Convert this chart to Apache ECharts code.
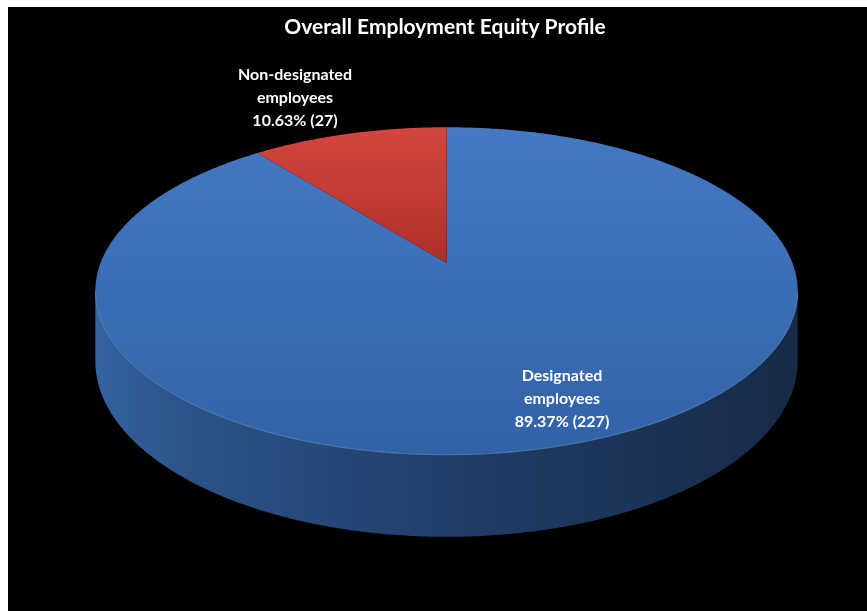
<!DOCTYPE html>
<html>
<head>
<meta charset="utf-8">
<script src="https://cdn.jsdelivr.net/npm/echarts@6/dist/echarts.min.js"></script>
<style>
  html, body { margin: 0; padding: 0; background: #ffffff; width: 867px; height: 611px; overflow: hidden; }
  #chart { position: absolute; left: 8px; top: 7px; width: 859px; height: 604px; }
</style>
</head>
<body>
<div id="chart"></div>
<script>
// ---- data ----
const titleText = 'Overall Employment Equity Profile';
const categories = ['Designated employees', 'Non-designated employees'];
const values = [227, 27];

// ---- styling / layout ----
const topColors = [['#4479C3', '#3262A6'], ['#D4463F', '#AE2F2A']];
const sideStops = [[0, '#3463A1'], [0.12, '#2C5489'], [0.5, '#203E69'], [1, '#172A47']];
const labelPos = [[554, 392], [287, 91]];
const geo = { cx: 438.5, cy: 256, R: 346, H: 159, p: 0.171, T: 68 };

const total = values.reduce((a, b) => a + b, 0);
const startAngles = [];
let acc = 0;
values.forEach(v => { startAngles.push(acc / total * Math.PI * 2); acc += v; });

function proj(theta, drop) {
  const X = Math.sin(theta), Z = Math.cos(theta);
  const w = 1 + geo.p * Z;
  return [geo.cx + geo.R * X / w, geo.cy - geo.H * Z / w + (drop || 0) / w];
}
function arcPts(a0, a1, drop) {
  const pts = [];
  const n = Math.max(2, Math.ceil(Math.abs(a1 - a0) / (Math.PI / 360)));
  for (let i = 0; i <= n; i++) pts.push(proj(a0 + (a1 - a0) * i / n, drop));
  return pts;
}
const thR = Math.acos(-geo.p), thL = 2 * Math.PI - thR;

const chart = echarts.init(document.getElementById('chart'), null, { renderer: 'canvas' });
chart.setOption({
  backgroundColor: '#000000',
  animation: false,
  graphic: [{
    type: 'text', x: 437, y: 10,
    style: { text: titleText, fill: '#ffffff', font: 'bold 21px Lato, "Open Sans", sans-serif', align: 'center' }
  }],
  series: [{
    type: 'custom',
    coordinateSystem: 'none',
    data: categories.map((c, i) => ({ name: c, value: values[i] })),
    renderItem: function (params, api) {
      const i = params.dataIndex;
      const v = values[i];
      const a0 = startAngles[i];
      const a1 = a0 + v / total * Math.PI * 2;
      const children = [];
      // side wall (visible front part)
      const s0 = Math.max(a0, thR), s1 = Math.min(a1, thL);
      if (s1 > s0) {
        const topRim = arcPts(s0, s1, 0);
        const botRim = arcPts(s1, s0, geo.T);
        children.push({
          type: 'polygon',
          shape: { points: topRim.concat(botRim) },
          style: { fill: new echarts.graphic.LinearGradient(0, 0, 1, 0, sideStops.map(s => ({ offset: s[0], color: s[1] }))) }
        });
      }
      // top face
      const rim = arcPts(a0, a1, 0);
      children.push({
        type: 'polygon',
        shape: { points: [[geo.cx, geo.cy]].concat(rim) },
        style: { fill: new echarts.graphic.LinearGradient(0, 0, 0, 1, [
          { offset: 0, color: topColors[i][0] }, { offset: 1, color: topColors[i][1] }]) }
      });
      if (s1 > s0) {
        children.push({
          type: 'polyline',
          shape: { points: arcPts(s0, s1, 0) },
          style: { stroke: 'rgba(120,165,225,0.55)', lineWidth: 1, fill: null }
        });
      }
      // label
      const pct = (v / total * 100).toFixed(2);
      const name = categories[i].replace(' employees', '\nemployees');
      children.push({
        type: 'text',
        x: labelPos[i][0], y: labelPos[i][1],
        style: {
          text: name + '\n' + pct + '% (' + v + ')',
          fill: '#ffffff', align: 'center', verticalAlign: 'middle',
          font: 'bold 16px Lato, "Open Sans", sans-serif', lineHeight: 23
        }
      });
      return { type: 'group', children: children };
    }
  }]
});
</script>
</body>
</html>
